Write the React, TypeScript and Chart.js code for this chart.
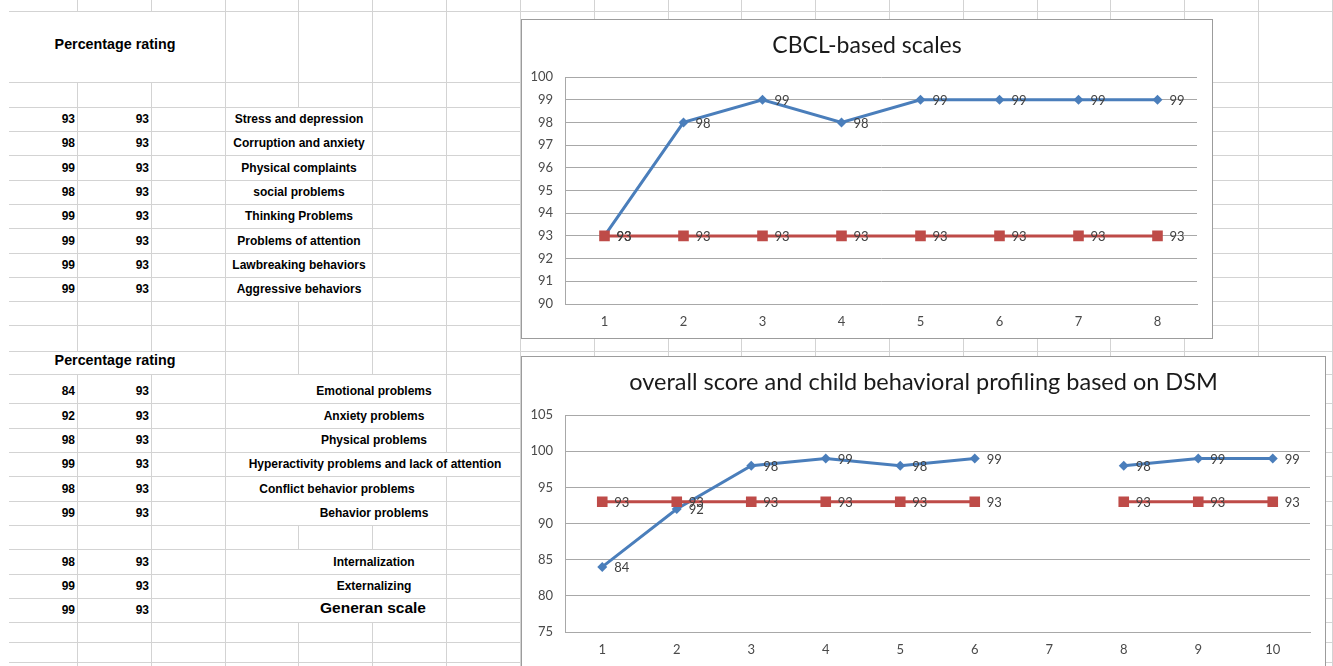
import React, { useEffect, useRef } from "react";
import { Chart, registerables } from "chart.js";

Chart.register(...registerables);

// ---------------- data ----------------
const tableHeading = "Percentage rating";

const cbclTitle = "CBCL-based scales";
const cbclCategories = ["1", "2", "3", "4", "5", "6", "7", "8"];
const cbclScores: (number | null)[] = [93, 98, 99, 98, 99, 99, 99, 99];
const cbclReference: (number | null)[] = [93, 93, 93, 93, 93, 93, 93, 93];
const cbclScaleNames = [
  "Stress and depression",
  "Corruption and anxiety",
  "Physical complaints",
  "social problems",
  "Thinking Problems",
  "Problems of attention",
  "Lawbreaking behaviors",
  "Aggressive behaviors",
];
const cbclYRange = [90, 100, 1]; // min, max, step

const dsmTitle = "overall score and child behavioral profiling based on DSM";
const dsmCategories = ["1", "2", "3", "4", "5", "6", "7", "8", "9", "10"];
const dsmScores: (number | null)[] = [84, 92, 98, 99, 98, 99, null, 98, 99, 99];
const dsmReference: (number | null)[] = [93, 93, 93, 93, 93, 93, null, 93, 93, 93];
const dsmScaleNames = [
  "Emotional problems",
  "Anxiety problems",
  "Physical problems",
  "Hyperactivity problems and lack of attention",
  "Conflict behavior problems",
  "Behavior problems",
  "",
  "Internalization",
  "Externalizing",
  "Generan scale",
];
const dsmYRange = [75, 105, 5];

// ---------------- layout (sheet geometry) ----------------
const W = 1333;
const H = 666;
const GRID = "#d3d3d3";
const COL_X = Array.from({ length: 18 }, (_, k) => Math.round(77 + 73.82 * k));
const ROW_Y = [11, 82, 107, 131, 155, 180, 204, 228, 253, 277, 301, 325, 351, 374, 403, 428, 452, 476, 501, 525, 549, 574, 598, 622, 642, 662];
const COL_SEGMENTS: Record<number, number[][]> = {
  0: [[0, 11], [82, 351], [374, H]],
  1: [[0, 11], [82, 351], [374, H]],
  3: [[0, 107], [301, 374], [525, 549], [622, H]],
  4: [[0, 374], [525, 549], [622, H]],
  5: [[0, 452], [476, H]],
};
const CBCL_ROW_BOTTOMS = [131, 155, 180, 204, 228, 253, 277, 301];
const DSM_ROW_BOTTOMS = [403, 428, 452, 476, 501, 525, 549, 574, 598, 622];
const DSM_LABEL_CX = [374, 374, 374, 375, 337, 374, 374, 374, 374, 373];

const CHART_FONT = "Lato, 'Noto Sans', sans-serif";

const valueLabelPlugin = {
  id: "valueLabels",
  afterDatasetsDraw(chart: any) {
    const ctx = chart.ctx as CanvasRenderingContext2D;
    ctx.save();
    ctx.font = `13px ${CHART_FONT}`;
    ctx.fillStyle = "#404040";
    ctx.textAlign = "left";
    ctx.textBaseline = "middle";
    chart.data.datasets.forEach((ds: any, i: number) => {
      const meta = chart.getDatasetMeta(i);
      meta.data.forEach((pt: any, j: number) => {
        const v = ds.data[j];
        if (v === null || v === undefined) return;
        ctx.fillText(String(v), pt.x + 12, pt.y + 1);
      });
    });
    ctx.restore();
  },
};

type ChartBoxProps = {
  left: number;
  top: number;
  width: number;
  height: number;
  title: string;
  titleSize: number;
  categories: string[];
  scores: (number | null)[];
  reference: (number | null)[];
  yRange: number[];
  plotTop: number;
  xAxisHeight: number;
};

function ChartBox(p: ChartBoxProps) {
  const ref = useRef<HTMLCanvasElement | null>(null);
  useEffect(() => {
    if (!ref.current) return;
    const titleSize = p.titleSize;
    const lh = titleSize * 1.2;
    const padTop = 25.5 - lh / 2;
    const padBottom = p.plotTop - padTop - lh;
    const chart = new Chart(ref.current, {
      type: "line",
      data: {
        labels: p.categories,
        datasets: [
          {
            label: "score",
            data: p.scores,
            borderColor: "#4A7EBB",
            backgroundColor: "#4A7EBB",
            pointBackgroundColor: "#4A7EBB",
            pointBorderColor: "#4A7EBB",
            borderWidth: 3,
            pointStyle: "rectRot",
            pointRadius: 5,
            pointBorderWidth: 0,
            tension: 0,
            spanGaps: false,
            order: 2,
            yAxisID: "y",
          },
          {
            label: "reference",
            data: p.reference,
            borderColor: "#BE4B48",
            backgroundColor: "#BE4B48",
            pointBackgroundColor: "#BE4B48",
            pointBorderColor: "#BE4B48",
            borderWidth: 3,
            pointStyle: "rect",
            pointRadius: 7.5,
            pointBorderWidth: 0,
            tension: 0,
            spanGaps: false,
            order: 1,
            yAxisID: "y",
          },
        ],
      },
      options: {
        responsive: false,
        animation: false,
        events: [],
        layout: { padding: 0 },
        plugins: {
          legend: { display: false },
          tooltip: { enabled: false },
          title: {
            display: true,
            text: p.title,
            color: "#1a1a1a",
            font: { family: CHART_FONT, size: titleSize, weight: "normal", lineHeight: 1.2 },
            padding: { top: padTop, bottom: padBottom },
          },
        },
        scales: {
          x: {
            type: "category",
            offset: true,
            grid: { display: false, drawTicks: false },
            border: { display: true, color: "#a8a8a8", width: 1 },
            ticks: { color: "#4a4a4a", font: { family: CHART_FONT, size: 13 }, padding: 10, maxRotation: 0 },
            afterFit: (s: any) => {
              s.height = p.xAxisHeight;
            },
          },
          y: {
            position: "left",
            min: p.yRange[0],
            max: p.yRange[1],
            grid: { color: "#a8a8a8", lineWidth: 1, drawTicks: false },
            border: { display: true, color: "#a8a8a8", width: 1 },
            ticks: { stepSize: p.yRange[2], color: "#4a4a4a", font: { family: CHART_FONT, size: 13 }, padding: 12 },
            afterFit: (s: any) => {
              s.width = 43;
            },
          },
          rightGap: {
            type: "linear",
            position: "right",
            display: true,
            grid: { display: false, drawTicks: false },
            border: { display: false },
            ticks: { display: false },
            afterFit: (s: any) => {
              s.width = 15;
            },
          },
        },
      },
      plugins: [valueLabelPlugin],
    } as any);
    return () => chart.destroy();
  }, []);
  return (
    <div
      style={{
        position: "absolute",
        left: p.left,
        top: p.top,
        width: p.width,
        height: p.height,
        border: "1px solid #9c9c9c",
        boxSizing: "border-box",
        background: "#fff",
      }}
    >
      <canvas ref={ref} width={p.width - 2} height={p.height - 2} style={{ display: "block" }} />
    </div>
  );
}

function Cell(props: { cx?: number; right?: number; bottom: number; text: string; size?: number; bold?: boolean }) {
  const size = props.size ?? 12;
  const lh = Math.round(size * 1.2);
  const style: React.CSSProperties = {
    position: "absolute",
    top: props.bottom - 12 - lh / 2,
    height: lh,
    lineHeight: `${lh}px`,
    fontSize: size,
    fontWeight: props.bold === false ? "normal" : "bold",
    whiteSpace: "nowrap",
    color: "#000",
  };
  if (props.right !== undefined) {
    style.left = props.right - 80;
    style.width = 80;
    style.textAlign = "right";
  } else {
    style.left = (props.cx as number) - 200;
    style.width = 400;
    style.textAlign = "center";
  }
  return <div style={style}>{props.text}</div>;
}

export default function App() {
  const lines: React.ReactNode[] = [];
  ROW_Y.forEach((y, i) => {
    lines.push(
      <div key={`h${i}`} style={{ position: "absolute", left: 9, top: y, width: W - 9, height: 1, background: GRID }} />
    );
  });
  COL_X.forEach((x, i) => {
    const segs = COL_SEGMENTS[i] ?? [[0, H]];
    segs.forEach((s, j) => {
      lines.push(
        <div key={`v${i}_${j}`} style={{ position: "absolute", left: x, top: s[0], width: 1, height: s[1] - s[0], background: GRID }} />
      );
    });
  });

  return (
    <div
      style={{
        position: "fixed",
        left: 0,
        top: 0,
        width: W,
        height: H,
        overflow: "hidden",
        background: "#fff",
        fontFamily: "'Liberation Sans', Arial, sans-serif",
      }}
    >
      {lines}

      <Cell cx={115} bottom={56} text={tableHeading} size={14.3} />
      {cbclScaleNames.map((name, i) => (
        <React.Fragment key={`c${i}`}>
          <Cell right={75} bottom={CBCL_ROW_BOTTOMS[i]} text={String(cbclScores[i])} />
          <Cell right={149} bottom={CBCL_ROW_BOTTOMS[i]} text={String(cbclReference[i])} />
          <Cell cx={299} bottom={CBCL_ROW_BOTTOMS[i]} text={name} />
        </React.Fragment>
      ))}

      <Cell cx={115} bottom={372} text={tableHeading} size={14.3} />
      {dsmScaleNames.map((name, i) =>
        dsmScores[i] === null ? null : (
          <React.Fragment key={`d${i}`}>
            <Cell right={75} bottom={DSM_ROW_BOTTOMS[i]} text={String(dsmScores[i])} />
            <Cell right={149} bottom={DSM_ROW_BOTTOMS[i]} text={String(dsmReference[i])} />
            <Cell
              cx={DSM_LABEL_CX[i]}
              bottom={i === dsmScaleNames.length - 1 ? DSM_ROW_BOTTOMS[i] - 3 : DSM_ROW_BOTTOMS[i]}
              text={name}
              size={i === dsmScaleNames.length - 1 ? 15.5 : 12}
            />
          </React.Fragment>
        )
      )}

      <ChartBox
        left={521}
        top={19}
        width={692}
        height={320}
        title={cbclTitle}
        titleSize={23}
        categories={cbclCategories}
        scores={cbclScores}
        reference={cbclReference}
        yRange={cbclYRange}
        plotTop={57}
        xAxisHeight={34}
      />
      <ChartBox
        left={521}
        top={356}
        width={805}
        height={322}
        title={dsmTitle}
        titleSize={23.5}
        categories={dsmCategories}
        scores={dsmScores}
        reference={dsmReference}
        yRange={dsmYRange}
        plotTop={58}
        xAxisHeight={45}
      />
    </div>
  );
}
